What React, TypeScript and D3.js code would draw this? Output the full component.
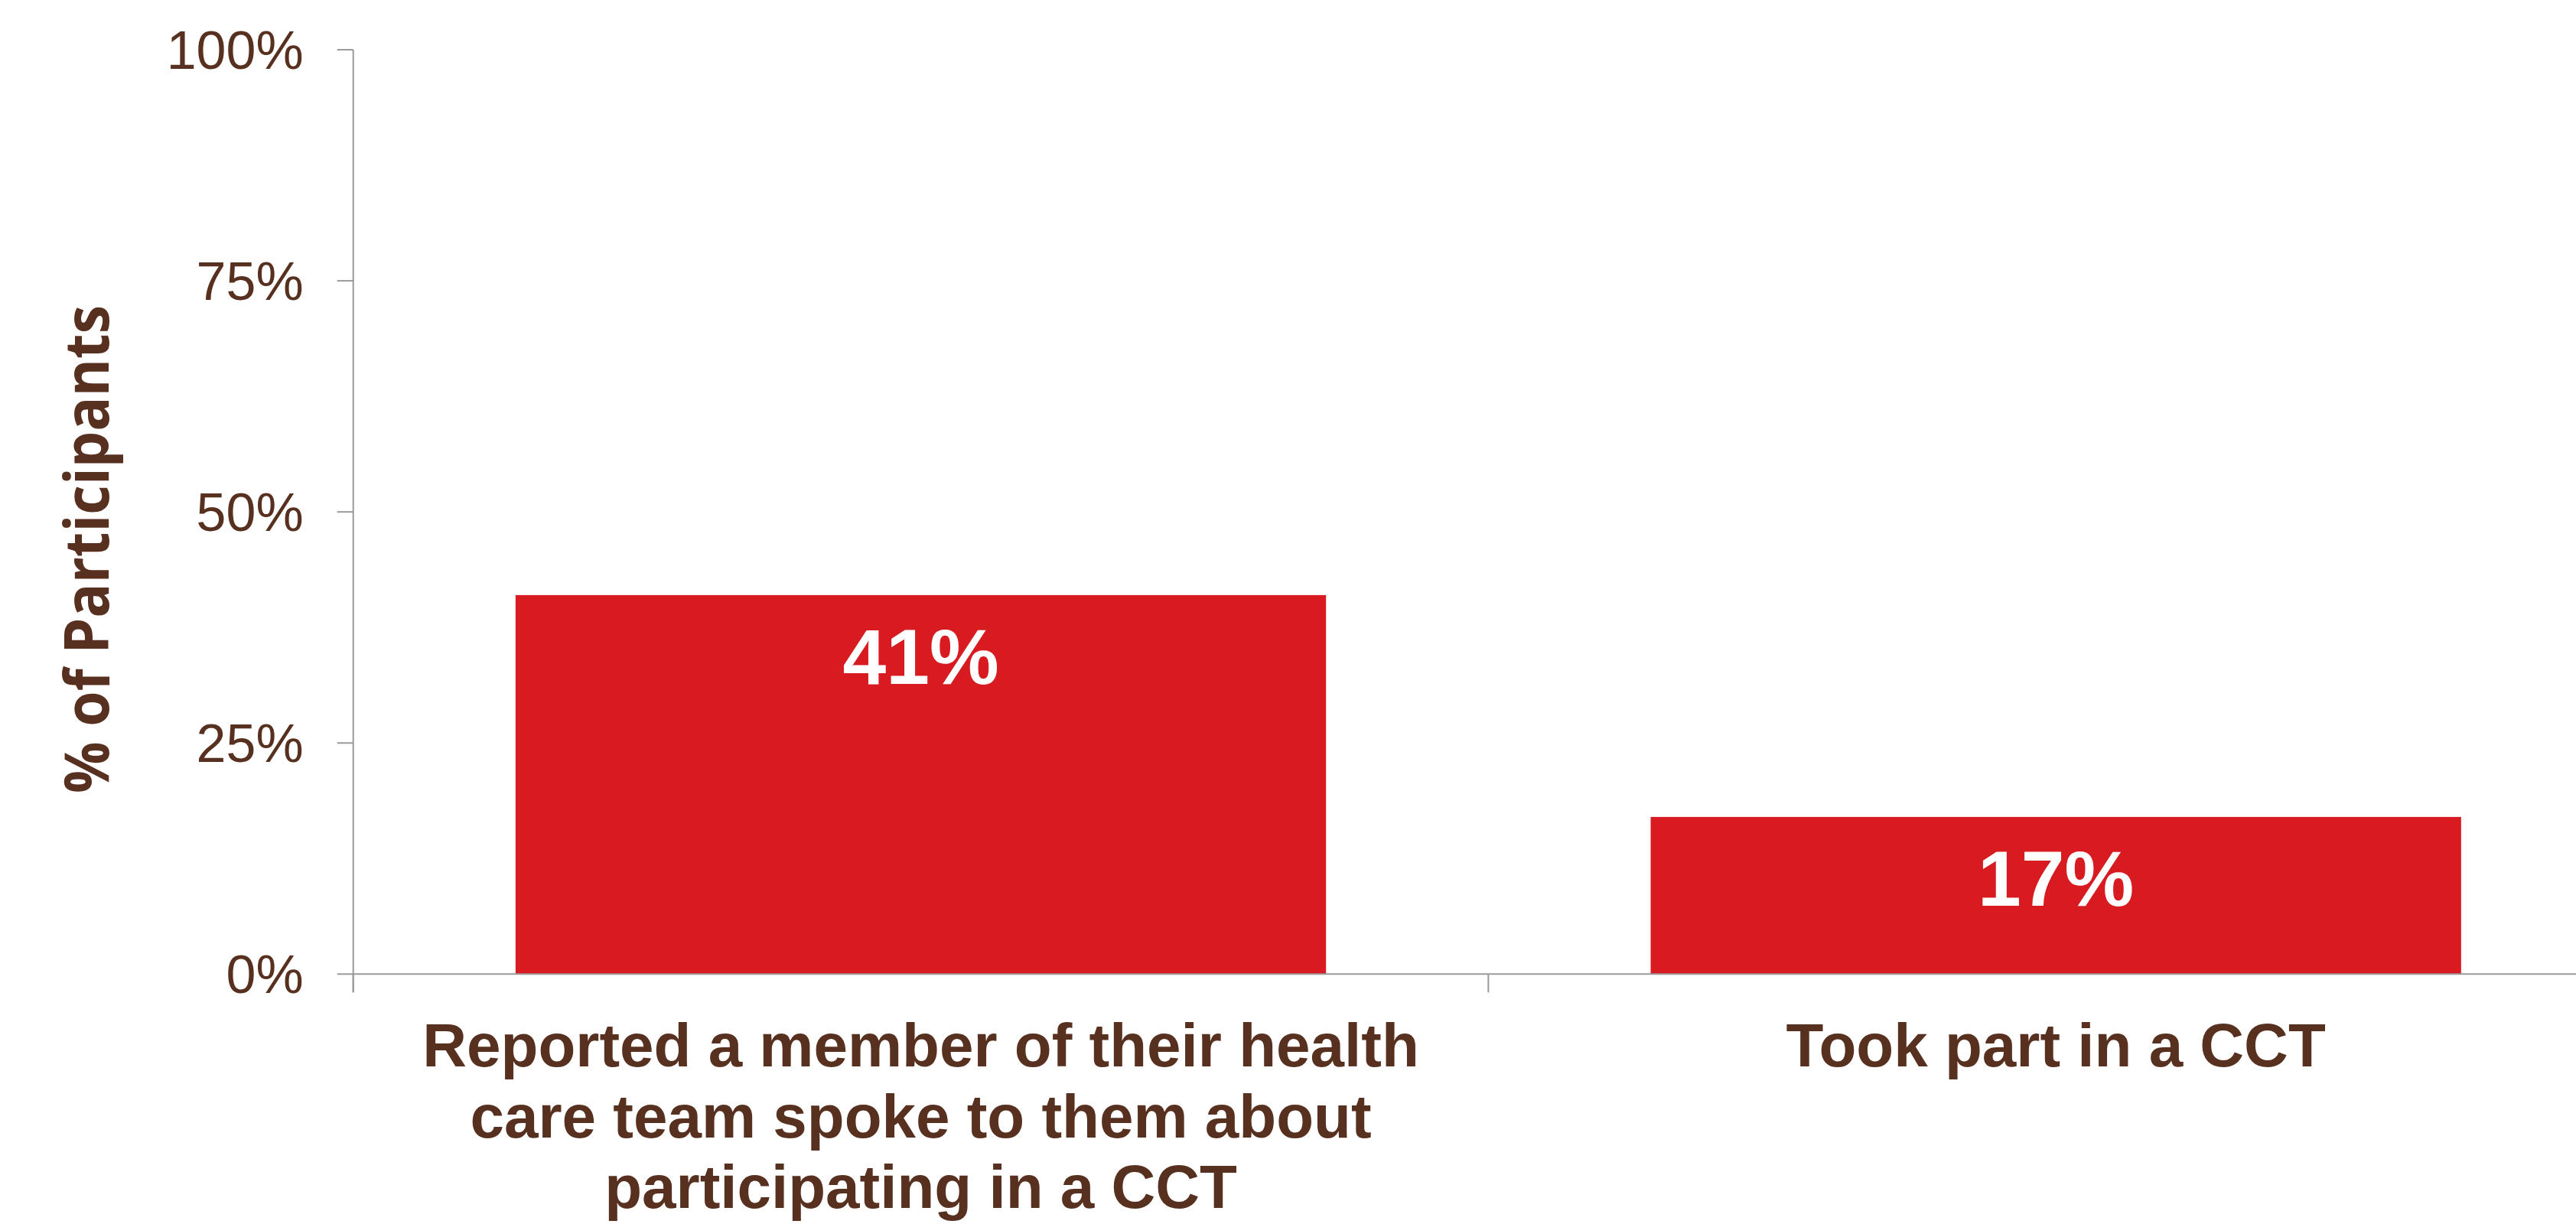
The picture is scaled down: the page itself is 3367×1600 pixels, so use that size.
import React from "react";
import * as d3 from "d3";

const categories = ["cat1", "cat2"];
const categoryLabels: string[][] = [
  ["Reported a member of their health", "care team spoke to them about", "participating in a CCT"],
  ["Took part in a CCT"],
];
const values = [0.41, 0.17];
const yTicks = [0, 0.25, 0.5, 0.75, 1];
const yAxisTitle = "% of Participants";

const W = 3367;
const H = 1600;
const BROWN = "#58301F";
const RED = "#D81B21";
const GRAY = "#9A9A9A";

export default function App() {
  const x0 = 461.7;
  const x1 = 3429;
  const y = d3.scaleLinear().domain([0, 1]).range([1273.3, 65]);
  const x = d3
    .scaleBand<string>()
    .domain(categories)
    .range([x0, x1])
    .paddingInner(0.286)
    .paddingOuter(0.143);
  const step = x.step();
  const fmt = d3.format(".0%");
  const boundaries = d3.range(categories.length + 1).map((i) => x0 + i * step);

  return (
    <svg
      width={W}
      height={H}
      style={{ position: "absolute", left: 0, top: 0, background: "#fff" }}
    >
      {/* bars */}
      {categories.map((c, i) => (
        <rect
          key={c}
          x={x(c)!}
          y={y(values[i])}
          width={x.bandwidth()}
          height={y(0) - y(values[i])}
          fill={RED}
        />
      ))}
      {/* bar value labels */}
      {categories.map((c, i) => (
        <text
          key={c + "v"}
          x={x(c)! + x.bandwidth() / 2}
          y={y(values[i]) + 116}
          textAnchor="middle"
          fontFamily="'Liberation Sans', Arial, sans-serif"
          fontWeight="bold"
          fontSize={102}
          fill="#fff"
        >
          {fmt(values[i])}
        </text>
      ))}
      {/* y axis */}
      <line x1={x0} x2={x0} y1={y(1)} y2={y(0) + 24} stroke={GRAY} strokeWidth={2} />
      {yTicks.map((t) => (
        <g key={t}>
          <line x1={x0 - 21} x2={x0} y1={y(t)} y2={y(t)} stroke={GRAY} strokeWidth={2} />
          <text
            x={x0 - 65}
            y={y(t)}
            dy="0.35em"
            textAnchor="end"
            fontFamily="'Liberation Sans', Arial, sans-serif"
            fontSize={70}
            fill={BROWN}
          >
            {fmt(t)}
          </text>
        </g>
      ))}
      {/* x axis */}
      <line x1={x0} x2={x1} y1={y(0)} y2={y(0)} stroke={GRAY} strokeWidth={2} />
      {boundaries.map((b, i) => (
        <line key={i} x1={b} x2={b} y1={y(0)} y2={y(0) + 24} stroke={GRAY} strokeWidth={2} />
      ))}
      {/* category labels */}
      {categories.map((c, i) => (
        <text
          key={c + "l"}
          textAnchor="middle"
          fontFamily="'Liberation Sans', Arial, sans-serif"
          fontWeight="bold"
          fontSize={80}
          fill={BROWN}
        >
          {categoryLabels[i].map((line, j) => (
            <tspan key={j} x={x(c)! + x.bandwidth() / 2} y={1394 + j * 92.5}>
              {line}
            </tspan>
          ))}
        </text>
      ))}
      {/* y axis title */}
      <text
        transform={`translate(141.7, 718) rotate(-90)`}
        textAnchor="middle"
        fontFamily="'Open Sans', 'Noto Sans', sans-serif"
        fontWeight="bold"
        fontSize={80}
        fill={BROWN}
        textLength={638}
        lengthAdjust="spacingAndGlyphs"
      >
        {yAxisTitle}
      </text>
    </svg>
  );
}
